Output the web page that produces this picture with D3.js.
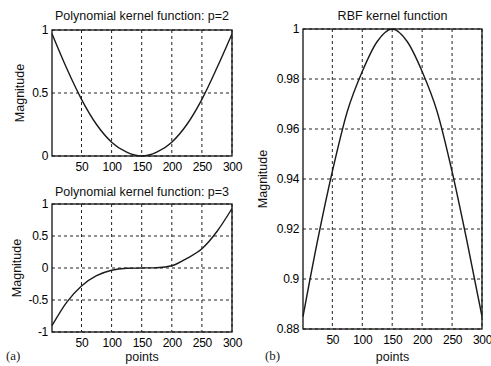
<!DOCTYPE html>
<html><head><meta charset="utf-8">
<script src="https://cdn.jsdelivr.net/npm/d3@7"></script>
<style>
body{margin:0;background:#fff;}
</style></head>
<body><svg id="c" width="491" height="366"></svg>
<script>
const xPoints = [1,25,50,75,100,125,150,175,200,225,250,275,300];
const poly2 = [0.97,0.70,0.45,0.25,0.11,0.03,0.0,0.03,0.11,0.25,0.45,0.70,0.97];
const poly3 = [-0.90,-0.54,-0.28,-0.12,-0.035,-0.005,0.0,0.005,0.035,0.15,0.30,0.57,0.93];
const rbf = [0.885,0.915,0.943,0.967,0.983,0.995,1.0,0.995,0.983,0.967,0.943,0.915,0.885];
const xTicks = [50,100,150,200,250,300];
const yTicksP2 = [0,0.5,1];
const yTicksP3 = [-1,-0.5,0,0.5,1];
const yTicksRbf = [0.88,0.9,0.92,0.94,0.96,0.98,1];
const titles = ["Polynomial kernel function: p=2","Polynomial kernel function: p=3","RBF kernel function"];

const SANS = "'Liberation Sans', Arial, sans-serif";
const SERIF = "'Liberation Serif', 'Times New Roman', serif";
const svg = d3.select("#c");

function panel(cfg){
  const x = d3.scaleLinear().domain([1,300]).range([cfg.l,cfg.r]);
  const y = d3.scaleLinear().domain(cfg.yDomain).range([cfg.b,cfg.t]);
  const g = svg.append("g");
  g.selectAll(".vg").data(xTicks).enter().append("line")
    .attr("x1",d=>x(d)).attr("x2",d=>x(d)).attr("y1",cfg.t).attr("y2",cfg.b)
    .attr("stroke","#222").attr("stroke-width",1).attr("stroke-dasharray","3,3");
  g.selectAll(".hg").data(cfg.yTicks).enter().append("line")
    .attr("x1",cfg.l).attr("x2",cfg.r).attr("y1",d=>y(d)).attr("y2",d=>y(d))
    .attr("stroke","#222").attr("stroke-width",1).attr("stroke-dasharray","3,3");
  const xa = d3.axisBottom(x).tickValues(xTicks).tickSize(0).tickPadding(6).tickFormat(d3.format("d"));
  const ga = g.append("g").attr("transform",`translate(0,${cfg.b})`).call(xa);
  ga.select(".domain").remove();
  ga.selectAll("text").style("font-size","12px").style("font-family",SANS).style("fill","#000").style("letter-spacing","-0.3px");
  const ya = d3.axisLeft(y).tickValues(cfg.yTicks).tickSize(0).tickPadding(4).tickFormat(d=>String(+d.toFixed(2)));
  const gy = g.append("g").attr("transform",`translate(${cfg.l},0)`).call(ya);
  gy.select(".domain").remove();
  gy.selectAll("text").style("font-size","12px").style("font-family",SANS).style("fill","#000").style("letter-spacing","-0.3px");
  g.append("rect").attr("x",cfg.l).attr("y",cfg.t).attr("width",cfg.r-cfg.l).attr("height",cfg.b-cfg.t)
    .attr("fill","none").attr("stroke","#111").attr("stroke-width",1.3);
  const line = d3.line().x((d,i)=>x(xPoints[i])).y(d=>y(d)).curve(d3.curveMonotoneX);
  g.append("path").attr("d",line(cfg.data)).attr("fill","none").attr("stroke","#1a1a1a").attr("stroke-width",1.4);
  g.append("text").attr("x",(cfg.l+cfg.r)/2).attr("y",cfg.t-cfg.tOff).attr("text-anchor","middle")
    .style("font-size","12.5px").style("font-family",SANS).style("fill","#111").text(cfg.title);
  g.append("text").attr("transform",`translate(${cfg.yl},${(cfg.t+cfg.b)/2}) rotate(-90)`)
    .attr("text-anchor","middle").style("font-size","12.5px").style("font-family",SANS).style("fill","#111").text("Magnitude");
  if(cfg.xlabel){
    g.append("text").attr("x",(cfg.l+cfg.r)/2).attr("y",361).attr("text-anchor","middle")
      .style("font-size","12.5px").style("font-family",SANS).style("fill","#111").text("points");
  }
}

panel({l:52,r:232,t:30,b:156,yDomain:[0,1],yTicks:yTicksP2,data:poly2,title:titles[0],yl:24,tOff:10.5});
panel({l:52,r:232,t:204,b:332,yDomain:[-1,1],yTicks:yTicksP3,data:poly3,title:titles[1],yl:21,tOff:8,xlabel:true});
panel({l:303,r:482,t:29,b:329,yDomain:[0.88,1],yTicks:yTicksRbf,data:rbf,title:titles[2],yl:267,tOff:9,xlabel:true});

svg.append("text").attr("x",6).attr("y",360).style("font-family",SERIF).style("font-size","13px").style("fill","#222").text("(a)");
svg.append("text").attr("x",265).attr("y",360).style("font-family",SERIF).style("font-size","13px").style("fill","#222").text("(b)");
</script></body></html>
